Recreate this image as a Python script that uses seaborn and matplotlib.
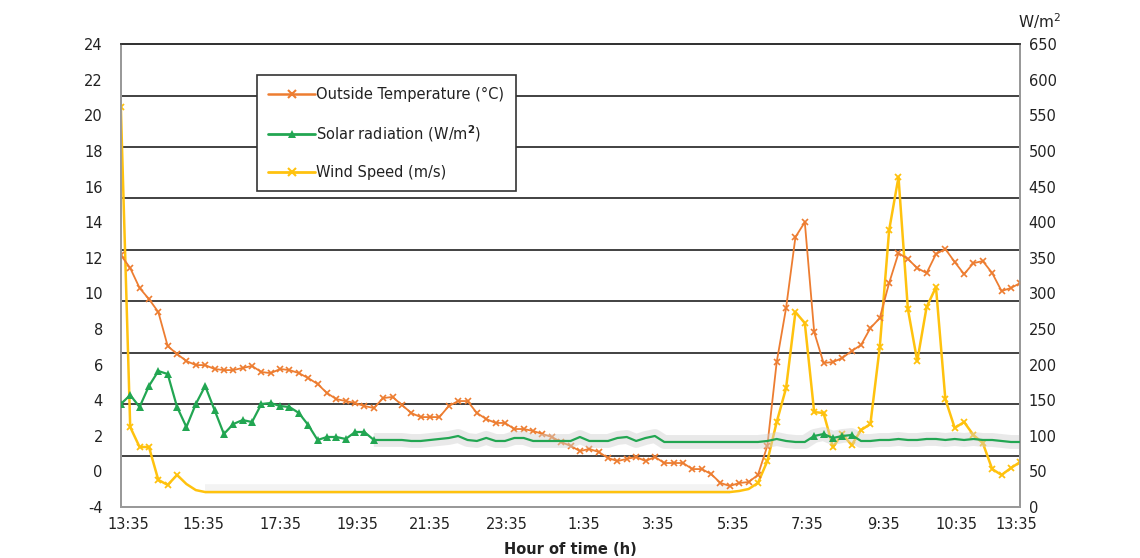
import numpy as np
import pandas as pd
import seaborn as sns
import matplotlib.pyplot as plt
from matplotlib.lines import Line2D

# readings every 15 min, starting at 13:35
temperature = [12.15, 11.42, 10.30, 9.68, 8.95, 7.04, 6.59, 6.20, 5.97, 5.97,
               5.75, 5.69, 5.69, 5.81, 5.92, 5.58, 5.52, 5.75, 5.69, 5.52,
               5.24, 4.91, 4.40, 4.06, 3.95, 3.84, 3.67, 3.56, 4.12, 4.18,
               3.73, 3.28, 3.05, 3.05, 3.05, 3.67, 3.95, 3.95, 3.28, 2.94,
               2.72, 2.72, 2.38, 2.38, 2.27, 2.10, 1.93, 1.65, 1.43, 1.14,
               1.26, 1.09, 0.75, 0.58, 0.70, 0.81, 0.58, 0.81, 0.47, 0.47,
               0.47, 0.13, 0.13, -0.15, -0.65, -0.82, -0.65, -0.60, -0.20, 1.43,
               6.14, 9.17, 13.16, 14.00, 7.83, 6.09, 6.14, 6.37, 6.76, 7.10,
               8.05, 8.61, 10.58, 12.26, 11.93, 11.42, 11.14, 12.21, 12.49, 11.76,
               11.08, 11.70, 11.81, 11.14, 10.13, 10.30, 10.58]

wind_speed = [20.46, 2.49, 1.37, 1.37, -0.48, -0.76, -0.20, -0.71, -1.05, -1.16,
              -1.16, -1.16, -1.16, -1.16, -1.16, -1.16, -1.16, -1.16, -1.16, -1.16,
              -1.16, -1.16, -1.16, -1.16, -1.16, -1.16, -1.16, -1.16, -1.16, -1.16,
              -1.16, -1.16, -1.16, -1.16, -1.16, -1.16, -1.16, -1.16, -1.16, -1.16,
              -1.16, -1.16, -1.16, -1.16, -1.16, -1.16, -1.16, -1.16, -1.16, -1.16,
              -1.16, -1.16, -1.16, -1.16, -1.16, -1.16, -1.16, -1.16, -1.16, -1.16,
              -1.16, -1.16, -1.16, -1.16, -1.16, -1.16, -1.10, -0.99, -0.65, 0.58,
              2.77, 4.68, 8.95, 8.33, 3.33, 3.28, 1.37, 2.10, 1.48, 2.32,
              2.66, 6.98, 13.55, 16.53, 9.12, 6.20, 9.23, 10.35, 4.06, 2.44,
              2.77, 2.04, 1.59, 0.13, -0.20, 0.19, 0.53]

solar = [144.6, 157.2, 140.4, 169.9, 190.9, 186.7, 140.4, 112.3, 144.6, 169.9,
         136.2, 102.5, 116.5, 122.1, 119.3, 144.6, 146.0, 141.8, 140.4, 132.0,
         115.1, 94.1, 98.3, 98.3, 95.5, 105.3, 105.3, 94.1, 94.1, 94.1,
         94.1, 92.7, 92.7, 94.1, 95.5, 96.9, 99.7, 94.1, 92.7, 97.0,
         92.7, 92.7, 96.9, 96.9, 92.7, 92.7, 92.7, 92.7, 92.7, 98.3,
         92.7, 92.7, 92.7, 96.9, 98.3, 92.7, 96.9, 99.7, 91.3, 91.3,
         91.3, 91.3, 91.3, 91.3, 91.3, 91.3, 91.3, 91.3, 91.3, 92.7,
         95.5, 92.7, 91.3, 91.3, 99.7, 102.5, 96.9, 99.7, 101.1, 92.7,
         92.7, 94.1, 94.1, 95.5, 94.1, 94.1, 95.5, 95.5, 94.1, 95.5,
         94.1, 95.5, 94.1, 94.1, 92.7, 91.3, 91.3]

tick_labels = ["13:35", "15:35", "17:35", "19:35", "21:35", "23:35", "1:35",
               "3:35", "5:35", "7:35", "9:35", "10:35", "13:35"]
tick_pos = [0.2, 2.2, 4.25, 6.3, 8.25, 10.3, 12.35, 14.35, 16.35, 18.3, 20.35, 22.3, 23.9]

df = pd.DataFrame({"hour": np.arange(len(temperature)) * 0.25,
                   "temp": temperature, "wind": wind_speed, "solar": solar})

c_temp, c_solar, c_wind = "#ED7D31", "#22A652", "#FFC20E"

sns.set_theme(style="white")
plt.rcParams["font.family"] = ["DejaVu Sans"]

fig = plt.figure(figsize=(11.4, 5.58), dpi=100)
ax = fig.add_axes([0.106, 0.0914, 0.789, 0.8296])
ax2 = ax.twinx()

# soft grey shadow under the smoothed flat parts
ax2.plot(df.hour[27:], df.solar[27:], color="#d0d0d0", lw=10, alpha=0.45, zorder=1,
         solid_capstyle="butt")
ax.plot(df.hour[9:66], df.wind[9:66] + 0.15, color="#e8e8e8", lw=7, alpha=0.5, zorder=1,
        solid_capstyle="butt")

sns.lineplot(data=df, x="hour", y="wind", ax=ax, color=c_wind, lw=1.8,
             marker="x", markersize=5, mew=1.3, mec=c_wind,
             markevery=list(range(0, 7)) + list(range(68, 97)), zorder=3)
sns.lineplot(data=df, x="hour", y="temp", ax=ax, color=c_temp, lw=1.3,
             marker="x", markersize=4.5, mew=1.2, mec=c_temp, zorder=4)
sns.lineplot(data=df, x="hour", y="solar", ax=ax2, color=c_solar, lw=1.6,
             marker="^", markersize=5.5, mew=0, mfc=c_solar,
             markevery=list(range(0, 28)) + list(range(74, 79)), zorder=3)

ax.set_xlim(0, 24)
ax.set_ylim(-2, 24)
ax2.set_ylim(0, 650)

# horizontal grid lines (9 equal bands)
for k in range(1, 9):
    ax.axhline(-2 + k * 26 / 9, color="#333333", lw=1.3, zorder=0)

ax.set_yticks(np.arange(-2, 25, 2))
ax.set_yticklabels(["-4"] + [str(v) for v in range(0, 25, 2)])
ax2.set_yticks(np.arange(0, 651, 50))
ax.set_xticks(tick_pos)
ax.set_xticklabels(tick_labels)

ax.tick_params(axis="y", length=0, pad=13, labelsize=10.5, labelcolor="#222222")
ax.tick_params(axis="x", length=0, pad=7, labelsize=10.5, labelcolor="#222222")
ax2.tick_params(axis="y", length=0, pad=6, labelsize=10.5, labelcolor="#222222")
ax.set_xlabel("")
ax.set_ylabel("")
ax2.set_ylabel("")

for a in (ax, ax2):
    for side in ("left", "right", "bottom"):
        a.spines[side].set_color("#999999")
        a.spines[side].set_linewidth(1.3)
    a.spines["top"].set_color("#333333")
    a.spines["top"].set_linewidth(1.3)

handles = [
    Line2D([], [], color=c_temp, lw=1.8, marker="x", markersize=6, mew=1.5),
    Line2D([], [], color=c_solar, lw=2, marker="^", markersize=6, mew=0),
    Line2D([], [], color=c_wind, lw=2, marker="x", markersize=6, mew=1.5),
]
labels = ["Outside Temperature (\u00b0C)", "Solar radiation (W/m$^{\\mathbf{2}}$)",
          "Wind Speed (m/s)"]
leg = ax2.legend(handles, labels, loc="upper left", bbox_to_anchor=(0.151, 0.933),
                 borderaxespad=0, frameon=True, fancybox=False, fontsize=10.5,
                 handlelength=3.2, handletextpad=0.1, labelspacing=1.45,
                 borderpad=0.8, framealpha=1)
leg.get_frame().set_edgecolor("#333333")
leg.get_frame().set_linewidth(1.2)
leg.set_zorder(10)
for t in leg.get_texts():
    t.set_color("#222222")

fig.text(0.912, 0.962, "W/m$^2$", fontsize=11, color="#222222", ha="center", va="center")
fig.text(0.5, 0.016, "Hour of time (h)", fontsize=10.5, fontweight="bold",
         color="#222222", ha="center", va="center")

fig.savefig("out.png", dpi=100)
